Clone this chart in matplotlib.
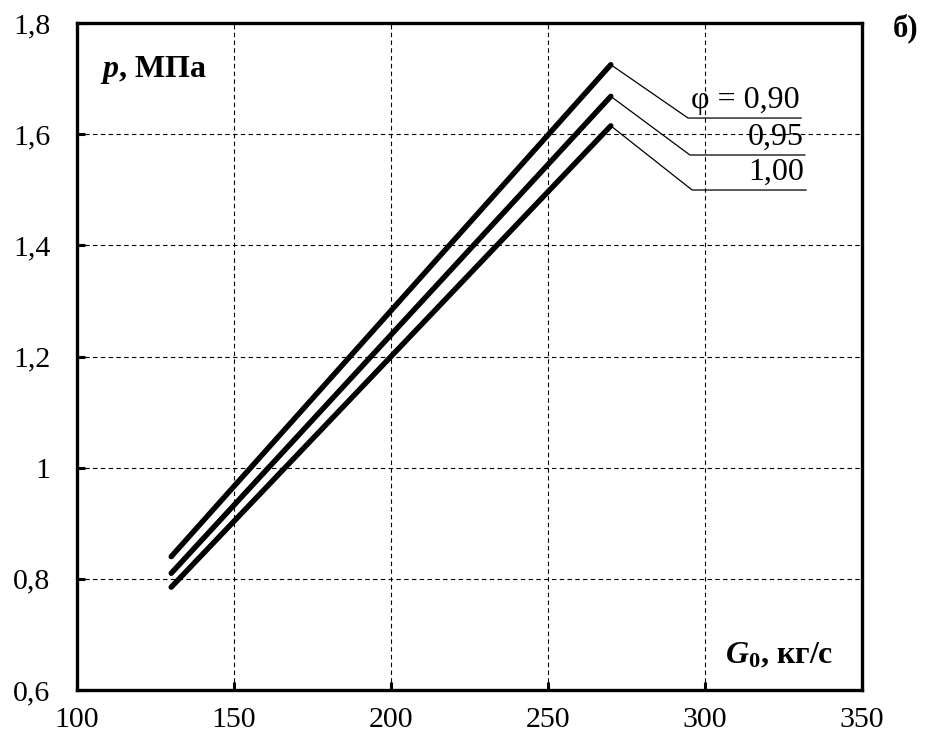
import numpy as np
import matplotlib
matplotlib.use('Agg')
import matplotlib.pyplot as plt
from matplotlib.ticker import FuncFormatter

plt.rcParams['font.family'] = ['Liberation Serif', 'DejaVu Serif']
plt.rcParams['mathtext.fontset'] = 'custom'
plt.rcParams['mathtext.it'] = 'Liberation Serif:italic:bold'
plt.rcParams['mathtext.rm'] = 'Liberation Serif:bold'
plt.rcParams['mathtext.bf'] = 'Liberation Serif:bold'

# данные: расход G0 (кг/с) и давление p (МПа) для трёх значений φ
g0 = [130, 270]
p_090 = [0.84, 1.725]
p_095 = [0.81, 1.668]
p_100 = [0.785, 1.615]
series = [p_090, p_095, p_100]
labels = ['φ = 0,90', '0,95', '1,00']

x_ticks = [100, 150, 200, 250, 300, 350]
y_ticks = [0.6, 0.8, 1.0, 1.2, 1.4, 1.6, 1.8]

fig = plt.figure(figsize=(9.32, 7.42), dpi=100)
ax = fig.add_axes([77 / 932, 1 - 690 / 742, 785 / 932, 667 / 742])

for p in series:
    ax.plot(g0, p, color='black', lw=3.9, solid_capstyle='round',
            solid_joinstyle='miter', zorder=3)

# выноски с подписями
label_x = [294.6, 295.2, 295.9]
label_y = [1.629, 1.5625, 1.4995]
label_end = [330.6, 331.8, 332.2]
for p, lab, lx, ly, le in zip(series, labels, label_x, label_y, label_end):
    ax.plot([g0[-1], lx, le], [p[-1], ly, ly], color='black', lw=0.9, zorder=3)
    ax.text(le - 0.5, ly + 0.006, lab, ha='right', va='bottom', fontsize=23)

ax.set_xlim(100, 350)
ax.set_ylim(0.6, 1.8)
ax.set_xticks(x_ticks)
ax.set_yticks(y_ticks)
ax.yaxis.set_major_formatter(FuncFormatter(
    lambda v, _: ('%g' % round(v, 2)).replace('.', ',')))
ax.tick_params(direction='in', length=6, width=2.2, labelsize=21.5,
               color='black')
ax.tick_params(axis='y', pad=19)
ax.tick_params(axis='x', pad=12)

ax.grid(True, color='black', lw=0.8, linestyle=(0, (4, 3)))
for s in ax.spines.values():
    s.set_linewidth(2.4)

ax.text(0.029, 0.93, r'$p$, МПа', transform=ax.transAxes, fontsize=23,
        fontweight='bold', ha='left', va='center')
ax.text(0.963, 0.03, r'$G_0$, кг/с', transform=ax.transAxes, fontsize=23,
        fontweight='bold', ha='right', va='bottom')
fig.text(918 / 932, 1 - 28 / 742, 'б)', fontsize=22, fontweight='bold',
         ha='right', va='center')

fig.savefig('out.png', dpi=100)
